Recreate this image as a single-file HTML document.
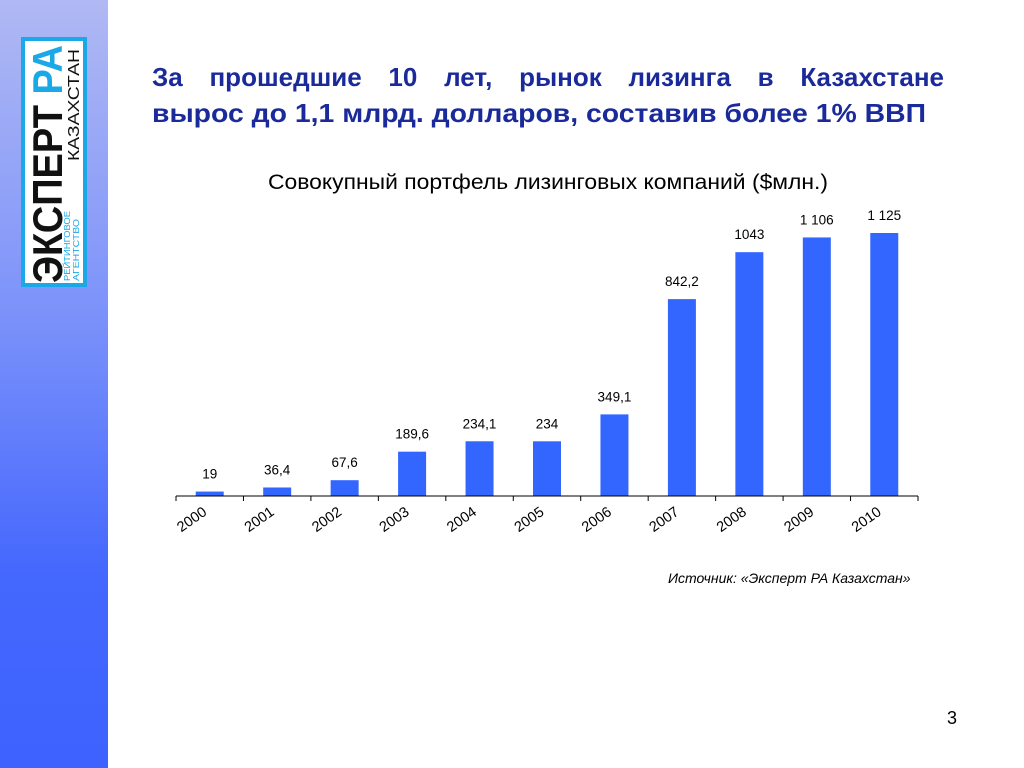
<!DOCTYPE html>
<html><head><meta charset="utf-8"><style>
body{margin:0;width:1024px;height:768px;position:relative;background:#fff;font-family:"Liberation Sans",sans-serif;overflow:hidden}
#side{position:absolute;left:0;top:0;width:108px;height:768px;background:linear-gradient(#b0b9f3,#7d93fa 40%,#4467fd 75%,#3d62ff)}
#logo{position:absolute;left:21px;top:37px}
#h1a{position:absolute;left:152px;top:61px;width:792px;font-size:26px;font-weight:bold;color:#1a2a9a;text-align:justify;text-align-last:justify;white-space:nowrap;line-height:33px}
#src{position:absolute;left:668px;top:570px;font-size:14px;font-style:italic;color:#000}
#pg{position:absolute;left:947px;top:708px;font-size:18px}
</style></head><body>
<div id="side"></div>
<svg id="logo" width="66" height="250">
<rect x="0" y="0" width="66" height="250" fill="#1aa8e6"/>
<rect x="4" y="4" width="58" height="242" fill="#fff"/>
<g transform="translate(41,246) rotate(-90)">
<text x="0" y="0" font-family="Liberation Sans, sans-serif" font-weight="bold" font-size="42" textLength="238" lengthAdjust="spacingAndGlyphs" fill="#111">ЭКСПЕРТ <tspan fill="#1aa8e6">РА</tspan></text>
</g>
<g transform="translate(58,124) rotate(-90)">
<text x="0" y="0" font-family="Liberation Sans, sans-serif" font-size="16" textLength="112" lengthAdjust="spacingAndGlyphs" fill="#111">КАЗАХСТАН</text>
</g>
<g transform="translate(49,244) rotate(-90)">
<text x="0" y="0" font-family="Liberation Sans, sans-serif" font-size="8" textLength="70" lengthAdjust="spacingAndGlyphs" fill="#1aa8e6">РЕЙТИНГОВОЕ</text>
<text x="0" y="9" font-family="Liberation Sans, sans-serif" font-size="8" textLength="62" lengthAdjust="spacingAndGlyphs" fill="#1aa8e6">АГЕНТСТВО</text>
</g>
</svg>
<div id="h1a">За прошедшие 10 лет, рынок лизинга в Казахстане</div>
<svg width="1024" height="200" style="position:absolute;left:0;top:0" font-family="Liberation Sans, sans-serif">
<text x="152" y="122" font-size="26" font-weight="bold" fill="#1a2a9a" textLength="774" lengthAdjust="spacingAndGlyphs">вырос до 1,1 млрд. долларов, составив более 1% ВВП</text>
<text x="268" y="189" font-size="21" fill="#000" textLength="560" lengthAdjust="spacingAndGlyphs">Совокупный портфель лизинговых компаний ($млн.)</text>
</svg>
<svg id="chart" width="1024" height="768" style="position:absolute;left:0;top:0"></svg>
<div id="src">Источник: «Эксперт РА Казахстан»</div>
<div id="pg">3</div>
<script>
const categories=["2000","2001","2002","2003","2004","2005","2006","2007","2008","2009","2010"];
const values=[19,36.4,67.6,189.6,234.1,234,349.1,842.2,1043,1106,1125];
const valueLabels=["19","36,4","67,6","189,6","234,1","234","349,1","842,2","1043","1 106","1 125"];
const svg=document.getElementById('chart');
const NS="http://www.w3.org/2000/svg";
const x0=176,x1=918,base=496,scale=263/1125;
const step=(x1-x0)/categories.length;
const xc=i=>x0+step*(i+0.5);
const yv=v=>base-v*scale;
function mk(t,a){const e=document.createElementNS(NS,t);for(const k in a)e.setAttribute(k,a[k]);svg.appendChild(e);return e;}
categories.forEach((c,i)=>{
 const b=mk('rect',{x:xc(i)-14,y:yv(values[i]),width:28,height:base-yv(values[i]),fill:'#3366ff'});
 
 
 const l=mk('text',{x:xc(i),y:yv(values[i])-13,'text-anchor':'middle','font-size':13.5,'font-family':'Liberation Sans, sans-serif'});
 l.textContent=valueLabels[i];
 
 
 const t=mk('text',{x:xc(i)-2,y:base+18,'text-anchor':'end','font-size':14.5,'font-family':'Liberation Sans, sans-serif',transform:`rotate(-35 ${xc(i)-2} ${base+18})`});
 t.textContent=c;
 
 
});
for(let i=0;i<=categories.length;i++){
 const tk=mk('line',{x1:x0+step*i,x2:x0+step*i,y1:base,y2:base+5,stroke:'#000'});
 
 
}
const ax=mk('line',{x1:x0,x2:x1,y1:base,y2:base,stroke:'#000'});


</script>
</body></html>
